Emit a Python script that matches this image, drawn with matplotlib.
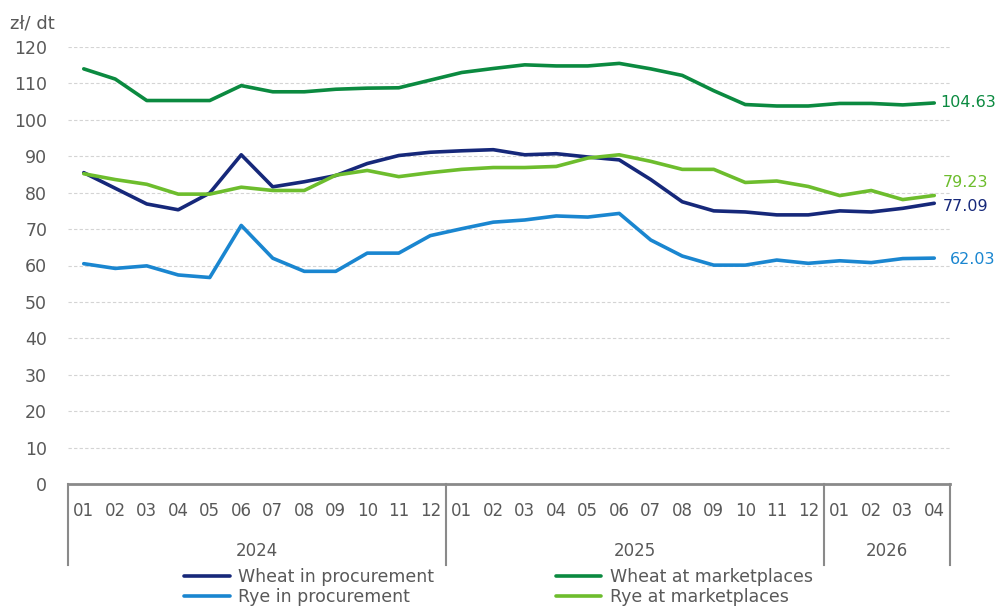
import matplotlib
matplotlib.use('Agg')
import matplotlib.pyplot as plt
import matplotlib.transforms as mtransforms
import numpy as np

plt.rcParams['font.family'] = ['DejaVu Sans']

# data
months = ['01', '02', '03', '04', '05', '06', '07', '08', '09', '10', '11', '12',
          '01', '02', '03', '04', '05', '06', '07', '08', '09', '10', '11', '12',
          '01', '02', '03', '04']
years = ['2024', '2025', '2026']
year_len = [12, 12, 4]

wheat_proc = [85.5, 81.2, 76.9, 75.3, 79.9, 90.4, 81.6, 83.0, 84.7, 88.0, 90.2, 91.1,
              91.5, 91.8, 90.4, 90.7, 89.8, 89.0, 83.6, 77.5, 75.0, 74.7, 73.9, 73.9,
              75.0, 74.7, 75.7, 77.09]
wheat_mkt = [114.0, 111.2, 105.3, 105.3, 105.3, 109.4, 107.7, 107.7, 108.4, 108.7, 108.8, 110.9,
             113.0, 114.1, 115.1, 114.8, 114.8, 115.5, 114.0, 112.2, 108.0, 104.2, 103.8, 103.8,
             104.5, 104.5, 104.1, 104.63]
rye_proc = [60.5, 59.2, 59.9, 57.4, 56.7, 71.0, 62.0, 58.4, 58.4, 63.4, 63.4, 68.2,
            70.1, 71.9, 72.5, 73.6, 73.3, 74.3, 67.0, 62.6, 60.1, 60.1, 61.5, 60.6,
            61.3, 60.8, 61.9, 62.03]
rye_mkt = [85.2, 83.6, 82.3, 79.6, 79.6, 81.5, 80.6, 80.6, 84.8, 86.1, 84.4, 85.5,
           86.4, 86.9, 86.9, 87.2, 89.5, 90.4, 88.6, 86.4, 86.4, 82.8, 83.2, 81.7,
           79.2, 80.6, 78.1, 79.23]

series = [
    ('Wheat in procurement', wheat_proc, '#16287a', (6, -2)),
    ('Rye in procurement', rye_proc, '#1a86d0', (11, -1)),
    ('Wheat at marketplaces', wheat_mkt, '#0b8a40', (4.5, 0)),
    ('Rye at marketplaces', rye_mkt, '#6dbd2d', (6, 9)),
]

fig = plt.figure(figsize=(9.97, 6.09), dpi=100)
ax = fig.add_axes([68/997, 1 - 484/609, (950-68)/997, (484-47)/609])

x = np.arange(len(months))
grey = '#595959'

for name, vals, col, off in series:
    ax.plot(x, vals, color=col, lw=2.6, label=name, solid_capstyle='round')
    ax.annotate(f'{vals[-1]:.2f}', (x[-1], vals[-1]), xytext=off, textcoords='offset points',
                ha='left', va='center', color=col, fontsize=11.5)

ax.set_xlim(-0.5, len(months) - 0.5)
ax.set_ylim(0, 120)
ax.set_yticks(range(0, 121, 10))
ax.tick_params(axis='y', length=0, pad=15, labelsize=12.5, labelcolor=grey)
ax.grid(axis='y', color='#d4d4d4', ls=(0, (3, 2)), lw=0.8)
ax.set_axisbelow(True)
for s in ['top', 'right', 'left']:
    ax.spines[s].set_visible(False)
ax.spines['bottom'].set_color('#8a8a8a')
ax.spines['bottom'].set_linewidth(2)

ax.set_xticks(x)
ax.set_xticklabels(months)
ax.tick_params(axis='x', length=0, pad=13, labelsize=12, labelcolor=grey)

# year grouping boxes below the axis
trans = mtransforms.blended_transform_factory(ax.transData, ax.transAxes)
edges = np.concatenate([[0], np.cumsum(year_len)]) - 0.5
for e in edges:
    ax.plot([e, e], [0, -81/437], color='#8a8a8a', lw=1.5, transform=trans, clip_on=False)
for i, yr in enumerate(years):
    ax.text((edges[i] + edges[i+1]) / 2, -67/437, yr, transform=trans, ha='center', va='center',
            fontsize=12, color=grey)

fig.text(10/997, 1 - 24/609, 'zł/ dt', fontsize=13, color=grey, va='center')

handles, labels = ax.get_legend_handles_labels()
fig.legend(handles, labels, ncol=2, loc='upper center', bbox_to_anchor=(0.5, 1 - 556/609),
           frameon=False, fontsize=12.5, labelcolor=grey, handlelength=2.6, handletextpad=0.5,
           columnspacing=7, labelspacing=0.1, borderaxespad=0.3)

fig.savefig('out.png', dpi=100)
